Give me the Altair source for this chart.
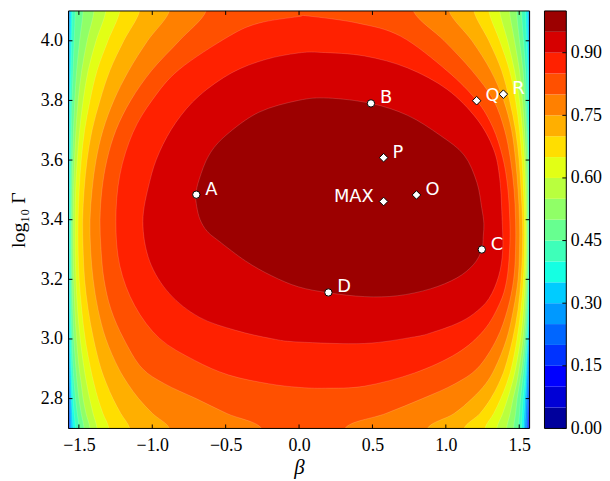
import math
import altair as alt
import pandas as pd

# ---------------- data ----------------
BETA_DOMAIN = [-math.pi / 2, math.pi / 2]
LG_DOMAIN = [2.7, 4.1]

X_TICKS = [-1.5, -1.0, -0.5, 0.0, 0.5, 1.0, 1.5]
Y_TICKS = [2.8, 3.0, 3.2, 3.4, 3.6, 3.8, 4.0]
CB_TICKS = [0.0, 0.15, 0.30, 0.45, 0.60, 0.75, 0.90]
CB_EDGES = [0.00, 0.05, 0.10, 0.15, 0.20, 0.25, 0.30, 0.35, 0.40, 0.45, 0.50,
            0.55, 0.60, 0.65, 0.70, 0.75, 0.80, 0.85, 0.90, 0.95, 1.00]
BAND_COLORS = ["#00009c", "#0000d6", "#0000ff", "#0033ff", "#0066ff", "#0099ff",
               "#00ccff", "#15ffe2", "#3effb9", "#67ff90", "#90ff67", "#b9ff3e",
               "#e2ff15", "#ffde00", "#ffaf00", "#ff8000", "#ff5000", "#ff2100",
               "#d60000", "#9c0000"]

# open contour levels: left / right beta of each level curve on these log10(Gamma) scanlines
LG_SCAN = [4.1, 4.0, 3.9, 3.8, 3.7, 3.6, 3.5, 3.4, 3.3, 3.2, 3.1, 3.0, 2.9, 2.85, 2.8, 2.75, 2.7]

LEFT = {
    "0.05": [-1.571] * 17,
    "0.10": [-1.571] * 17,
    "0.15": [-1.571, -1.571, -1.571, -1.571, -1.571, -1.571, -1.571, -1.571, -1.571, -1.571, -1.571, -1.571, -1.571, -1.571, -1.571, -1.570, -1.568],
    "0.20": [-1.569, -1.571, -1.571, -1.571, -1.571, -1.571, -1.571, -1.571, -1.571, -1.571, -1.571, -1.571, -1.570, -1.569, -1.568, -1.566, -1.564],
    "0.25": [-1.566, -1.568, -1.570, -1.571, -1.571, -1.571, -1.571, -1.571, -1.571, -1.571, -1.571, -1.570, -1.568, -1.566, -1.564, -1.562, -1.560],
    "0.30": [-1.562, -1.564, -1.566, -1.567, -1.568, -1.569, -1.569, -1.569, -1.569, -1.569, -1.568, -1.567, -1.564, -1.562, -1.557, -1.555, -1.553],
    "0.35": [-1.555, -1.557, -1.560, -1.562, -1.564, -1.564, -1.565, -1.565, -1.565, -1.564, -1.564, -1.562, -1.557, -1.554, -1.551, -1.546, -1.541],
    "0.40": [-1.545, -1.549, -1.553, -1.557, -1.559, -1.560, -1.561, -1.562, -1.562, -1.561, -1.559, -1.555, -1.550, -1.545, -1.540, -1.532, -1.523],
    "0.45": [-1.525, -1.532, -1.540, -1.547, -1.551, -1.553, -1.555, -1.555, -1.555, -1.554, -1.552, -1.547, -1.539, -1.532, -1.523, -1.511, -1.498],
    "0.50": [-1.471, -1.495, -1.515, -1.528, -1.537, -1.543, -1.547, -1.549, -1.549, -1.547, -1.542, -1.534, -1.520, -1.511, -1.500, -1.484, -1.464],
    "0.55": [-1.397, -1.444, -1.481, -1.505, -1.520, -1.530, -1.536, -1.539, -1.539, -1.535, -1.528, -1.516, -1.498, -1.484, -1.471, -1.451, -1.424],
    "0.60": [-1.316, -1.383, -1.437, -1.471, -1.495, -1.511, -1.522, -1.525, -1.525, -1.520, -1.509, -1.491, -1.464, -1.447, -1.427, -1.403, -1.376],
    "0.65": [-1.221, -1.302, -1.376, -1.424, -1.461, -1.484, -1.498, -1.505, -1.505, -1.498, -1.481, -1.457, -1.420, -1.397, -1.370, -1.336, -1.295],
    "0.70": [-1.086, -1.194, -1.289, -1.356, -1.410, -1.444, -1.464, -1.474, -1.471, -1.461, -1.437, -1.400, -1.349, -1.312, -1.268, -1.214, -1.153],
    "0.75": [-0.883, -1.032, -1.160, -1.262, -1.336, -1.383, -1.410, -1.424, -1.420, -1.403, -1.370, -1.316, -1.228, -1.167, -1.093, -0.998, -0.883],
    "0.80": [-0.633, -0.816, -1.005, -1.147, -1.248, -1.309, -1.343, -1.356, -1.349, -1.329, -1.282, -1.194, -1.066, -0.917, -0.701, -0.491, -0.255],
}
RIGHT = {
    "0.05": [1.571, 1.571, 1.571, 1.571, 1.571, 1.571, 1.571, 1.571, 1.571, 1.571, 1.571, 1.571, 1.571, 1.571, 1.571, 1.570, 1.569],
    "0.10": [1.571, 1.571, 1.571, 1.571, 1.571, 1.571, 1.571, 1.571, 1.571, 1.571, 1.571, 1.571, 1.571, 1.571, 1.569, 1.568, 1.567],
    "0.15": [1.571, 1.571, 1.571, 1.571, 1.571, 1.571, 1.571, 1.571, 1.571, 1.571, 1.571, 1.571, 1.571, 1.569, 1.567, 1.565, 1.563],
    "0.20": [1.570, 1.571, 1.571, 1.571, 1.571, 1.571, 1.571, 1.571, 1.571, 1.571, 1.571, 1.571, 1.570, 1.567, 1.565, 1.561, 1.558],
    "0.25": [1.567, 1.568, 1.570, 1.571, 1.571, 1.571, 1.571, 1.571, 1.571, 1.571, 1.571, 1.570, 1.567, 1.563, 1.558, 1.555, 1.551],
    "0.30": [1.563, 1.565, 1.567, 1.568, 1.570, 1.570, 1.570, 1.570, 1.570, 1.570, 1.569, 1.566, 1.558, 1.554, 1.549, 1.544, 1.539],
    "0.35": [1.556, 1.559, 1.563, 1.565, 1.567, 1.568, 1.569, 1.569, 1.569, 1.568, 1.566, 1.560, 1.551, 1.546, 1.539, 1.534, 1.529],
    "0.40": [1.543, 1.549, 1.556, 1.559, 1.563, 1.565, 1.566, 1.566, 1.566, 1.564, 1.561, 1.555, 1.543, 1.536, 1.526, 1.520, 1.516],
    "0.45": [1.516, 1.529, 1.543, 1.549, 1.556, 1.562, 1.563, 1.563, 1.563, 1.561, 1.556, 1.547, 1.531, 1.520, 1.509, 1.502, 1.495],
    "0.50": [1.482, 1.502, 1.526, 1.539, 1.549, 1.556, 1.558, 1.558, 1.558, 1.556, 1.549, 1.538, 1.518, 1.502, 1.486, 1.475, 1.461],
    "0.55": [1.434, 1.468, 1.502, 1.522, 1.536, 1.546, 1.551, 1.553, 1.553, 1.549, 1.541, 1.526, 1.499, 1.482, 1.458, 1.438, 1.414],
    "0.60": [1.367, 1.421, 1.468, 1.502, 1.522, 1.536, 1.543, 1.546, 1.546, 1.541, 1.529, 1.509, 1.475, 1.451, 1.421, 1.387, 1.347],
    "0.65": [1.293, 1.367, 1.434, 1.475, 1.502, 1.519, 1.529, 1.536, 1.536, 1.529, 1.512, 1.485, 1.445, 1.414, 1.374, 1.326, 1.266],
    "0.70": [1.191, 1.293, 1.380, 1.434, 1.475, 1.499, 1.512, 1.522, 1.522, 1.512, 1.492, 1.455, 1.401, 1.360, 1.306, 1.232, 1.124],
    "0.75": [1.022, 1.178, 1.306, 1.394, 1.448, 1.475, 1.492, 1.502, 1.502, 1.492, 1.461, 1.414, 1.333, 1.272, 1.178, 1.056, 0.874],
    "0.80": [0.779, 0.989, 1.178, 1.326, 1.401, 1.441, 1.465, 1.475, 1.475, 1.462, 1.421, 1.347, 1.212, 1.063, 0.840, 0.590, 0.313],
}

# closed contour levels: (beta, log10 Gamma) points around each curve
CLOSED_BETA = {
    "0.85": [-1.248, -1.221, -1.131, -0.996, -0.816, -0.478, -0.275, -0.005, 0.063, 0.401, 0.693, 1.009, 1.211, 1.320, 1.387, 1.421, 1.436,
             1.434, 1.414, 1.367, 1.259, 1.076, 0.786, 0.448, 0.178, -0.005, -0.208, -0.478, -0.714, -0.951, -1.120, -1.221],
    "0.90": [-1.064, -1.018, -0.951, -0.838, -0.680, -0.457, -0.230, -0.005, 0.151, 0.446, 0.739, 1.009, 1.211, 1.324, 1.367, 1.384,
             1.387, 1.360, 1.293, 1.191, 1.076, 0.907, 0.784, 0.446, -0.005, -0.185, -0.432, -0.680, -0.883, -1.018],
    "0.95": [-0.703, -0.680, -0.613, -0.498, -0.275, -0.005, 0.198, 0.490, 0.739, 0.961, 1.124, 1.211, 1.245, 1.259, 1.255, 1.245,
             1.191, 1.076, 0.894, 0.671, 0.448, 0.200, -0.005, -0.187, -0.363, -0.545, -0.626, -0.674, -0.697],
}
CLOSED_LG = {
    "0.85": [3.394, 3.550, 3.693, 3.804, 3.904, 4.015, 4.059, 4.081, 4.083, 4.059, 4.015, 3.899, 3.799, 3.710, 3.610, 3.511, 3.394,
             3.295, 3.195, 3.119, 3.029, 2.952, 2.886, 2.842, 2.835, 2.838, 2.850, 2.879, 2.929, 3.002, 3.112, 3.245],
    "0.90": [3.394, 3.527, 3.627, 3.727, 3.816, 3.893, 3.937, 3.959, 3.961, 3.949, 3.909, 3.837, 3.738, 3.638, 3.538, 3.394,
             3.295, 3.211, 3.135, 3.085, 3.052, 3.022, 3.007, 2.985, 2.990, 3.001, 3.029, 3.073, 3.152, 3.261],
    "0.95": [3.484, 3.536, 3.617, 3.683, 3.760, 3.800, 3.808, 3.790, 3.750, 3.683, 3.617, 3.526, 3.438, 3.388, 3.345, 3.300,
             3.251, 3.205, 3.168, 3.145, 3.142, 3.155, 3.175, 3.212, 3.261, 3.328, 3.361, 3.400, 3.444],
}

LEVELS = ["0.05", "0.10", "0.15", "0.20", "0.25", "0.30", "0.35", "0.40", "0.45", "0.50",
          "0.55", "0.60", "0.65", "0.70", "0.75", "0.80", "0.85", "0.90", "0.95"]

CIRCLE_NAMES = ["A", "B", "C", "D"]
CIRCLE_BETA = [-0.70, 0.49, 1.245, 0.20]
CIRCLE_LG = [3.484, 3.79, 3.30, 3.156]
DIAMOND_NAMES = ["MAX", "P", "O", "Q", "R"]
DIAMOND_BETA = [0.576, 0.576, 0.80, 1.21, 1.392]
DIAMOND_LG = [3.461, 3.608, 3.483, 3.799, 3.821]

# ---------------- build tables ----------------
LG_BEYOND_TOP = LG_DOMAIN[1] + 0.06     # open curves continue past the frame (clipped)
LG_BEYOND_BOTTOM = LG_DOMAIN[0] - 0.06

rows = []
for lev in LEVELS:
    if lev in LEFT:
        lg_ext = [LG_BEYOND_TOP] + LG_SCAN + [LG_BEYOND_BOTTOM]
        left = [LEFT[lev][0]] + LEFT[lev] + [LEFT[lev][-1]]
        right = [RIGHT[lev][0]] + RIGHT[lev] + [RIGHT[lev][-1]]
        pts = list(zip(left, lg_ext)) + list(zip(right[::-1], lg_ext[::-1]))
    else:
        pts = list(zip(CLOSED_BETA[lev], CLOSED_LG[lev]))
    for i, (b, g) in enumerate(pts):
        rows.append({"lev": lev, "i": i, "beta": b, "lg": g})
poly_df = pd.DataFrame(rows)

W, H = 465, 421
FONT_AX = "Liberation Serif"

X_ENC = alt.X("beta:Q", scale=alt.Scale(domain=BETA_DOMAIN, nice=False, zero=False),
              axis=alt.Axis(values=X_TICKS, format=".1f", ticks=False, domain=False, grid=False,
                            labelFont=FONT_AX, labelFontSize=18, labelColor="black", labelPadding=8,
                            title="β", titleFont=FONT_AX, titleFontSize=21, titleFontStyle="italic",
                            titleFontWeight="normal", titleColor="black", titlePadding=2))
Y_ENC = alt.Y("lg:Q", scale=alt.Scale(domain=LG_DOMAIN, nice=False, zero=False),
              axis=alt.Axis(values=Y_TICKS, format=".1f", ticks=False, domain=False, grid=False,
                            labelFont=FONT_AX, labelFontSize=18, labelColor="black", labelPadding=6,
                            title="log₁₀ Γ", titleFont=FONT_AX, titleFontSize=20,
                            titleFontWeight="normal", titleColor="black", titlePadding=12))

layers = []
for k, lev in enumerate(LEVELS):
    col = BAND_COLORS[k + 1]
    closed = lev in CLOSED_BETA
    layers.append(
        alt.Chart(poly_df)
        .transform_filter(alt.FieldEqualPredicate(field="lev", equal=lev))
        .mark_line(filled=True, fill=col, stroke="white", strokeOpacity=0.22, strokeWidth=0.7,
                   clip=True, interpolate="cardinal-closed" if closed else "catmull-rom")
        .encode(x=X_ENC, y=Y_ENC, order=alt.Order("i:Q"))
    )

xt = pd.DataFrame({"beta": X_TICKS})
yt = pd.DataFrame({"lg": Y_TICKS})
layers.append(alt.Chart(xt).mark_rule(color="black", strokeWidth=1)
              .encode(x=X_ENC, y=alt.value(H - 4), y2=alt.value(H)))
layers.append(alt.Chart(xt).mark_rule(color="black", strokeWidth=1)
              .encode(x=X_ENC, y=alt.value(0), y2=alt.value(4)))
layers.append(alt.Chart(yt).mark_rule(color="black", strokeWidth=1)
              .encode(y=Y_ENC, x=alt.value(0), x2=alt.value(4)))
layers.append(alt.Chart(yt).mark_rule(color="black", strokeWidth=1)
              .encode(y=Y_ENC, x=alt.value(W - 4), x2=alt.value(W)))

circ = pd.DataFrame({"name": CIRCLE_NAMES, "beta": CIRCLE_BETA, "lg": CIRCLE_LG})
diam = pd.DataFrame({"name": DIAMOND_NAMES, "beta": DIAMOND_BETA, "lg": DIAMOND_LG})
layers.append(alt.Chart(circ).mark_point(shape="circle", filled=True, fill="white", stroke="black",
                                          strokeWidth=1, size=55, opacity=1)
              .encode(x=X_ENC, y=Y_ENC))
layers.append(alt.Chart(diam).mark_point(shape="diamond", filled=True, fill="white", stroke="black",
                                          strokeWidth=1, size=75, opacity=1)
              .encode(x=X_ENC, y=Y_ENC))
lab = pd.concat([circ, diam], ignore_index=True)
layers.append(alt.Chart(lab).transform_filter(alt.datum.name != "MAX")
              .mark_text(align="left", baseline="alphabetic", dx=9, color="white",
                         font="DejaVu Sans", fontSize=18)
              .encode(x=X_ENC, y=Y_ENC, text="name:N"))
layers.append(alt.Chart(lab).transform_filter(alt.datum.name == "MAX")
              .mark_text(align="right", baseline="alphabetic", dx=-10, color="white",
                         font="DejaVu Sans", fontSize=18)
              .encode(x=X_ENC, y=Y_ENC, text="name:N"))
layers.append(alt.Chart(pd.DataFrame({"beta": [0.0]})).mark_rect(
    fillOpacity=0, stroke="black", strokeWidth=1)
    .encode(x=alt.value(0), x2=alt.value(W), y=alt.value(0), y2=alt.value(H)))

main = alt.layer(*layers).properties(
    width=W, height=H, view=alt.ViewBackground(fill=BAND_COLORS[0], stroke=None))

# ---------------- colorbar ----------------
CBW = 22
cb_df = pd.DataFrame({"lo": CB_EDGES[:-1], "hi": CB_EDGES[1:],
                      "band": [f"b{j:02d}" for j in range(len(BAND_COLORS))]})
CB_Y = alt.Y("lo:Q", scale=alt.Scale(domain=[0, 1], nice=False, zero=False),
             axis=alt.Axis(orient="right", values=CB_TICKS, format=".2f", ticks=False, domain=False,
                           grid=False, labelFont=FONT_AX, labelFontSize=18, labelColor="black",
                           labelPadding=4, title=None))
cb_rects = alt.Chart(cb_df).mark_rect(strokeWidth=0).encode(
    y=CB_Y, y2="hi:Q", x=alt.value(0), x2=alt.value(CBW),
    color=alt.Color("band:N", scale=alt.Scale(domain=list(cb_df["band"]), range=BAND_COLORS), legend=None))
cb_ticks = alt.Chart(pd.DataFrame({"lo": CB_TICKS})).mark_rule(color="black", strokeWidth=1).encode(
    y=CB_Y, x=alt.value(CBW - 4), x2=alt.value(CBW))
cb_frame = alt.Chart(pd.DataFrame({"lo": [0.0]})).mark_rect(fillOpacity=0, stroke="black", strokeWidth=1).encode(
    x=alt.value(0), x2=alt.value(CBW), y=alt.value(0), y2=alt.value(H))
cb = alt.layer(cb_rects, cb_ticks, cb_frame).properties(width=CBW, height=H)

chart = (alt.hconcat(main, cb, spacing=13)
         .properties(padding={"left": 0, "top": 0, "right": 0, "bottom": 0})
         .configure_view(stroke=None))

chart.save("out.html", embed_options={"renderer": "svg", "actions": False})
